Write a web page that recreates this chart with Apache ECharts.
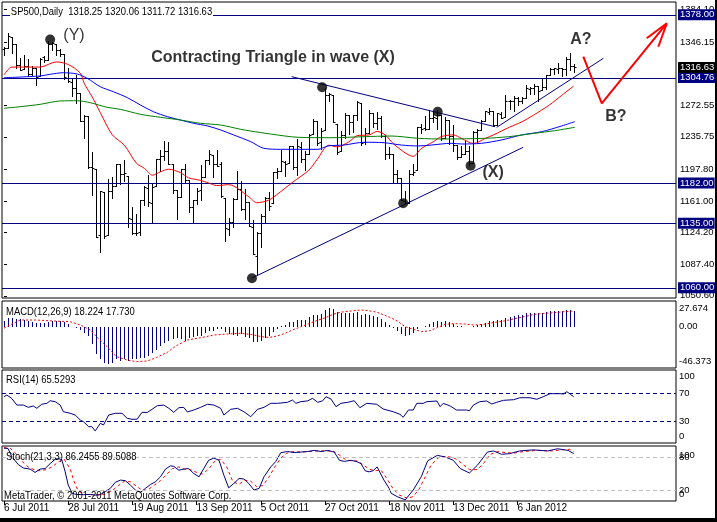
<!DOCTYPE html>
<html><head><meta charset="utf-8">
<script src="https://cdn.jsdelivr.net/npm/echarts@6/dist/echarts.min.js"></script>
<style>html,body{margin:0;padding:0;background:#fff}#c{width:717px;height:522px}</style>
</head><body><div id="c"></div>
<script>
// ---------- DATA ----------
const monthDays = [
  ['Jul', 2011, [6,7,8,11,12,13,14,15,18,19,20,21,22,25,26,27,28,29]],
  ['Aug', 2011, [1,2,3,4,5,8,9,10,11,12,15,16,17,18,19,22,23,24,25,26,29,30,31]],
  ['Sep', 2011, [1,2,6,7,8,9,12,13,14,15,16,19,20,21,22,23,26,27,28,29,30]],
  ['Oct', 2011, [3,4,5,6,7,10,11,12,13,14,17,18,19,20,21,24,25,26,27,28,31]],
  ['Nov', 2011, [1,2,3,4,7,8,9,10,11,14,15,16,17,18,21,22,23,25,28,29,30]],
  ['Dec', 2011, [1,2,5,6,7,8,9,12,13,14,15,16,19,20,21,22,23,27,28,29,30]],
  ['Jan', 2012, [3,4,5,6,9,10,11,12,13,17,18,19,20,23,24,25,26,27]]
];
const dates = [];
monthDays.forEach(m => m[2].forEach(d => dates.push(d + ' ' + m[0] + ' ' + m[1])));
const dateTickIdx = [0,16,32,48,64,80,96,112,128];
const SLOTS = 168;

const opens = [1337.6,1339.6,1352.4,1343.3,1319.6,1314.5,1317.7,1308.9,1315.9,1307.1,1328.7,1325.7,1343.8,1344.3,1337.4,1331.9,1304.8,1300.1,
 1292.6,1286.6,1254.3,1260.2,1200.3,1198.5,1121.3,1171.8,1121.3,1172.9,1178.9,1204.2,1193.0,1189.6,1140.5,1123.6,1124.4,1162.2,1176.7,1158.9,1177.9,1209.8,1213.0,
 1219.1,1203.9,1174.0,1165.9,1198.0,1185.4,1153.5,1162.6,1173.3,1189.4,1209.2,1215.0,1204.5,1203.6,1164.6,1128.8,1136.9,1163.3,1175.4,1151.7,1159.9,
 1131.2,1097.4,1124.0,1144.1,1165.0,1158.2,1194.6,1196.2,1207.0,1205.7,1224.5,1200.8,1223.5,1209.9,1215.4,1238.7,1254.2,1229.2,1244.0,1284.4,1285.0,
 1251.0,1219.6,1238.3,1260.8,1253.2,1261.1,1275.2,1229.6,1240.1,1263.9,1251.7,1257.8,1236.6,1216.2,1215.6,1193.0,1187.5,1161.4,1158.7,1192.6,1196.7,
 1246.9,1246.0,1244.3,1257.2,1258.1,1260.9,1234.5,1255.1,1236.8,1225.7,1212.1,1216.1,1219.7,1205.7,1241.3,1243.7,1254.0,1265.0,1265.4,1249.8,1262.8,
 1258.9,1277.0,1277.3,1280.9,1277.8,1280.8,1292.0,1292.5,1294.8,1290.2,1293.7,1308.1,1314.5,1315.3,1316.0,1314.4,1326.3,1318.25];
const highs = [1340.9,1356.5,1352.4,1343.3,1327.2,1331.5,1326.9,1317.7,1315.9,1328.1,1330.4,1347.0,1346.1,1344.3,1338.5,1331.9,1316.3,1304.2,
 1307.4,1286.6,1261.2,1260.2,1218.1,1198.5,1172.9,1171.8,1186.3,1189.0,1204.5,1204.2,1208.5,1189.6,1154.5,1145.5,1162.4,1178.6,1190.7,1181.2,1210.3,1220.1,1230.7,
 1229.3,1203.9,1174.0,1198.6,1204.4,1185.4,1162.5,1176.4,1202.4,1209.1,1220.1,1215.0,1220.4,1206.3,1164.6,1141.7,1164.2,1195.9,1184.7,1175.1,1159.9,
 1139.0,1125.1,1146.1,1165.6,1171.4,1194.9,1199.2,1220.3,1207.5,1224.6,1224.5,1233.1,1229.6,1219.4,1239.0,1256.5,1254.2,1246.3,1292.7,1287.1,1285.0,
 1251.0,1242.5,1263.2,1260.8,1261.7,1277.6,1275.2,1246.2,1267.0,1263.9,1264.3,1259.6,1237.7,1223.5,1215.6,1196.8,1187.5,1172.7,1197.4,1203.7,1247.1,
 1251.1,1260.1,1266.7,1266.0,1267.1,1260.9,1258.3,1255.1,1249.9,1225.7,1225.6,1231.0,1224.6,1242.8,1245.1,1255.2,1265.4,1269.4,1265.9,1263.5,1264.1,
 1284.6,1278.7,1283.1,1281.8,1282.0,1296.5,1293.8,1296.8,1294.8,1303.0,1308.1,1315.5,1315.4,1322.3,1316.0,1328.3,1333.5,1320.06];
const lows = [1330.9,1339.6,1333.7,1316.4,1313.3,1314.5,1306.5,1307.4,1295.9,1307.1,1323.0,1325.7,1336.9,1331.1,1329.6,1303.5,1299.2,1282.9,
 1274.7,1254.0,1234.6,1199.5,1168.1,1119.3,1101.5,1118.0,1121.3,1164.2,1178.9,1180.5,1184.4,1131.0,1122.1,1121.1,1121.1,1156.3,1155.1,1135.9,1177.9,1195.8,1209.3,
 1203.9,1170.6,1140.1,1165.9,1183.3,1148.4,1136.1,1157.4,1162.7,1189.4,1204.5,1188.4,1201.3,1166.2,1114.2,1121.4,1131.1,1163.3,1150.4,1139.9,1131.3,
 1098.9,1074.8,1107.1,1135.0,1150.3,1158.2,1187.3,1196.2,1190.6,1205.7,1198.6,1191.5,1206.3,1197.3,1215.4,1238.7,1226.8,1221.1,1244.0,1277.0,1253.2,
 1215.4,1219.6,1234.8,1238.9,1240.8,1255.0,1226.6,1227.7,1240.1,1246.7,1244.3,1235.7,1209.4,1211.4,1183.2,1181.7,1161.8,1158.7,1158.7,1191.8,1196.7,
 1239.7,1243.4,1244.3,1253.0,1244.8,1231.5,1234.5,1227.3,1219.4,1209.5,1212.1,1215.2,1202.4,1205.7,1229.5,1243.7,1254.0,1262.3,1248.6,1249.8,1257.5,
 1258.9,1268.1,1265.3,1273.3,1274.6,1280.8,1285.4,1285.8,1277.6,1290.2,1291.0,1308.1,1309.2,1309.9,1306.1,1307.7,1313.6,1311.72];
const closes = [1339.2,1353.2,1343.8,1319.5,1313.6,1317.7,1308.9,1316.1,1305.4,1326.7,1325.8,1343.8,1345.0,1337.4,1331.9,1304.9,1300.7,1292.3,
 1286.9,1254.1,1260.3,1200.1,1199.4,1119.5,1172.5,1120.8,1172.6,1178.8,1204.5,1192.8,1193.9,1140.7,1123.5,1123.8,1162.4,1177.6,1159.3,1176.8,1210.1,1212.9,1218.9,
 1204.4,1173.9,1165.2,1198.6,1185.9,1154.2,1162.3,1172.9,1188.7,1209.1,1216.0,1204.1,1202.1,1166.8,1129.6,1136.4,1163.0,1175.4,1151.1,1160.4,1131.4,
 1099.2,1124.0,1144.0,1165.0,1155.5,1194.9,1195.5,1207.3,1203.7,1224.6,1200.9,1225.4,1209.9,1215.4,1238.3,1254.2,1229.1,1242.0,1284.6,1285.1,1253.3,
 1218.3,1237.9,1261.2,1253.2,1261.1,1275.9,1229.1,1239.7,1263.9,1251.8,1257.8,1236.9,1216.1,1215.7,1193.0,1188.0,1161.8,1158.7,1192.6,1195.2,1247.0,
 1244.6,1244.3,1257.1,1258.5,1261.0,1234.4,1255.2,1236.5,1225.7,1211.8,1215.8,1219.7,1205.4,1241.3,1243.7,1254.0,1265.3,1265.4,1249.6,1263.0,1257.6,
 1277.1,1277.3,1281.1,1277.8,1280.7,1292.1,1292.5,1295.5,1289.1,1293.7,1308.0,1314.5,1315.4,1316.0,1314.7,1326.1,1318.4,1316.63];

const redMA = [[0,1308],[2,1317],[9,1317],[13,1323],[16,1320],[19,1310],[20,1298],[22,1282],[24,1264],[27,1238],[30,1226],[33,1205],[35,1199],[37,1191],[39,1195],[41,1198],[44,1194],[46,1188],[49,1185],[51,1182],[53,1179],[56,1180],[61,1166],[63,1159],[66,1162],[69,1172],[72,1183],[76,1197],[78,1209],[81,1226],[83,1224],[86,1230],[88,1237],[91,1238],[93,1242],[95,1238],[97,1228],[100,1217],[102,1213],[104,1222],[107,1230],[109,1236],[112,1238],[114,1234],[117,1228],[120,1234],[122,1238],[126,1247],[129,1253],[132,1261],[136,1273],[139,1284],[142,1295]];
const blueMA = [[0,1304.6],[9,1306.6],[11.5,1308.6],[14.75,1310.4],[18.25,1308.9],[20.75,1303.9],[24,1294.1],[27.25,1288.3],[30.75,1281.4],[34,1272.8],[37.25,1265],[40.75,1259.2],[44,1255.3],[47.25,1251.5],[50.75,1248.4],[54,1243.7],[57.25,1237.9],[61.5,1230.1],[64.75,1222.4],[69,1221.2],[78.25,1221.2],[80.75,1225.1],[84.75,1226.2],[89.75,1229.4],[94.75,1228.9],[99,1226.2],[103.25,1225.1],[106.5,1226.2],[111.5,1228.2],[114,1227.4],[119,1228.2],[124,1232.1],[129,1237.9],[134,1241.7],[139,1248.4],[142.25,1253.4]];
const greenMA = [[0,1269],[4,1270.8],[9,1273.6],[14,1277.5],[18.25,1277.8],[21.5,1275.5],[25.75,1270.1],[29,1267.8],[34,1262],[39,1258.5],[44,1255.3],[49,1251.5],[54,1249.5],[59,1244.5],[61.5,1242.5],[66.5,1239],[73.25,1235.2],[81.5,1234.7],[89.75,1235.9],[96.5,1236.7],[103.25,1234],[109.75,1233.2],[119.75,1234],[125.75,1235.9],[132.25,1239.9],[137.25,1242.9],[142.25,1246.8]];

const levelLines = [1378.00, 1304.76, 1182.00, 1135.00, 1060.00];
const lastPrice = 1316.63;
const priceTicks = [1384.10, 1346.15, 1272.55, 1235.75, 1197.80, 1161.00, 1124.20, 1087.40, 1050.60];

const waveCircles = [[11.5,1349],[61.8,1071],[79.3,1293.5],[99.5,1158.5],[108.1,1265],[116.3,1202]];
const upperTriLine = [[71.7,1305.8],[122.4,1247.5]];
const lowerTriLine = [[61.7,1071],[129.4,1223.5]];
const risingLine = [[122.8,1246.8],[149.4,1327.2]];
const redPath = [[144.4,1329.1],[149,1274.8],[165.2,1368]];
const redBarb1 = [[160.2,1350.5],[165.2,1368]];
const redBarb2 = [[163.1,1340.7],[165.2,1368]];
const annotations = [
  {name:'(Y)', value:[17.45,1353.8], w:'normal'},
  {name:'Contracting Triangle in wave (X)', value:[67.05,1328.1], w:'bold'},
  {name:'A?', value:[143.8,1348.5], w:'bold'},
  {name:'B?', value:[152.5,1259.5], w:'bold'},
  {name:'(X)', value:[121.9,1194.2], w:'bold'}
];

const macdHist = [6.3,10,10,9.3,8.6,7.9,6.8,5.6,4.1,4.8,4.8,5.9,6.8,6.8,6.8,5.9,3,0.3,-1.8,-4.1,-6.8,-10.5,-19.9,-31,-36.6,-41,-42.4,-41,-36.6,-38.4,
 -36.6,-38.4,-36.6,-36.6,-34.8,-34.8,-33,-29.3,-26.5,-22,-18,-16.1,-14.3,-12.4,-14.3,-16.1,-12.4,-11.6,-10.5,-10.5,-6.8,-4.8,-4.8,-2.3,-3,-5.6,-8.6,-9.3,-10.5,-8.6,
 -11,-13,-17,-17.5,-15.5,-12.5,-10.5,-6,-2.5,0.5,2.5,5.5,5.5,7.5,7.5,8,10.5,13.5,13.5,14.5,19,21.5,20.5,16.5,15,15.5,15.5,15.5,16.5,
 13.5,14.5,13.5,12.5,11,9,5,1.5,-1.5,-5,-8.5,-10,-9,-7,-3,-0.8,0.5,3,5,6.5,5.5,6.5,5.5,3.5,1.2,0.4,0.3,-0.5,0.6,1.8,3.2,4.8,6,6.2,7.2,7.6,
 9.8,11,12.4,13,13.6,15,15.5,16,15.6,15.6,16.6,17.5,18,18.2,17.8,18.5,18.5,18.224];
const macdSignal = [[0,-1.5],[2,3],[4,7.6],[8,7.6],[12,6.6],[16.5,5.7],[19,2],[21.5,-3.6],[23,-11.1],[25.7,-22.4],[28,-33.6],[30.7,-37.4],[33,-39.3],[35.7,-38.5],[38,-34.7],[40.7,-28.7],[43,-21.2],[45.7,-14.9],[49,-12.3],[52.3,-9.3],[55.7,-8.1],[59,-7.3],[62,-9],[64,-11],[66,-12],[68,-10.5],[70,-7.5],[72,-3.5],[74,0],[76,3.5],[78,7],[80,10],[82,14],[84,16.5],[86,17.5],[88,18.5],[89,18.9],[90.7,18.2],[93,16.3],[94.7,13.3],[96.3,10.3],[98,6.5],[100,0.1],[101.8,-2.5],[104,-5.5],[106,-4.7],[108,-1],[110,2.8],[112,3.5],[114.7,3.2],[117,2],[119.7,2.8],[122,4.7],[124.7,6.5],[127,8.8],[129.7,11.4],[132.2,14],[134.7,15.1],[137.2,15.9],[139.7,17],[142,17.73]];

const rsi = [[0,65.6],[0.7,68],[1.9,63.2],[3.2,53.4],[4.8,53.4],[6.1,50],[7.3,52],[8.2,48.6],[9.4,54.5],[10.7,55.9],[11.5,59.7],[12.75,58.3],[14,53.4],[14.8,43.6],[16.5,41.3],[17.75,38.8],[19,31.5],[19.8,29],[21.1,21.7],[21.9,21.7],[22.75,15.4],[24,26.6],[24.8,24.2],[26.1,38.8],[27.75,41.3],[29.4,41.3],[30.7,34],[31.9,32.5],[33.2,32.7],[34.4,42.7],[35.7,42.5],[36.9,47.1],[38.2,52.4],[39.8,53.4],[41.1,48.6],[42.3,42.7],[43.6,49.5],[44.8,50],[45.7,43.2],[47.3,46.1],[49,50],[50.7,54.5],[52.3,53.4],[54,48.6],[54.8,38.8],[56.5,47.1],[58.2,48.6],[59.8,43.6],[61.5,36.3],[63.2,47.1],[64.8,50],[66.5,55.9],[68.2,55.9],[70.7,57.4],[71.9,60.8],[72.75,55.9],[74,58.3],[75.7,59.5],[76.9,63.2],[78.2,57.4],[79.4,59.5],[80.25,65.6],[81.5,62.2],[82.75,51],[84,55.9],[85.7,57.4],[87.3,59.7],[88.7,49.5],[90.4,55.9],[92.9,54.5],[94.5,47.6],[97,43.6],[98.7,39.8],[99.5,35.4],[100.8,46.1],[102,46.1],[102.9,55.9],[104.5,55.9],[105.4,58.3],[107.9,59.3],[108.7,51],[109.5,55.9],[111.2,52],[112.8,46.1],[115.3,46.1],[116,45],[117,53.4],[118.6,58.3],[120.3,59.3],[121.6,54.9],[122.8,57.4],[124.5,60.3],[127,61.2],[128.6,64.1],[131.1,64.1],[132.8,61.8],[134.4,65.6],[136.1,70],[138.6,70],[139.4,69.5],[140.3,72.9],[141.1,69.5],[142,65.53]];

const stochMain = [[0,96],[1,95.5],[2,80],[3.6,66],[4.8,60],[6.5,58],[7.75,52],[9,58],[10.25,59],[11.5,68],[12.75,76],[13.6,77],[14.4,75],[15.25,53],[16,29],[17,14],[18,12],[19.8,11.5],[21.5,12],[22.75,10.7],[24,11.5],[25.25,17],[26.5,23],[27.75,34],[29,38],[30.25,37],[31.5,29],[32.75,20],[34,15.6],[35.25,23],[36.5,30],[37.75,35],[39,44],[40.25,58],[41.5,64],[42.3,63],[43.6,56],[44.8,58],[46,59],[47.3,50],[48.6,44],[49.8,59],[51,74],[52.3,78],[53.6,74],[54.8,47],[56,24],[57.3,32],[58.6,41],[59.8,40],[61,32],[62.3,20],[63.6,23],[64.8,44],[66.5,62],[67.75,72],[69,88],[70.7,90],[72.3,88],[74,89],[75.7,90],[77.3,92],[79,90],[80.7,92],[82.3,89],[83.6,74],[84.8,72],[86.5,74],[87.75,72],[89,68],[90,55],[91,53],[92,55],[93,62],[94.7,38],[96,23],[96.5,14],[98,8],[100,2],[102,20],[104,44],[105.6,73],[108,83],[110,80],[112,74],[113.7,59],[116,51],[118,65],[120.5,89],[122,91],[124,85],[126,86],[128.5,91],[132,93],[135.5,91],[138,95],[140.6,92],[142,86.25]];
const stochSignal = [[0,97],[1.5,96],[3,86],[4.5,72],[6,62],[7.5,57],[9,55],[10.5,57],[12,62],[13.5,71],[15,76],[16.5,58],[17.5,35],[18.5,18],[20,12],[22,11.5],[24,11],[25.5,13],[27,19],[28.5,28],[30,36],[31.5,35],[33,27],[34.5,19],[36,21],[37.5,29],[39,37],[40.5,48],[42,59],[43.5,62],[45,58],[46.5,57],[48,52],[49.5,49],[51,58],[52.5,72],[54,76],[55.5,62],[57,36],[58.5,30],[60,38],[61.5,36],[63,26],[64.5,28],[66,43],[67.5,62],[69,78],[70.5,87],[72,90],[74,89],[76,90],[78,91],[80,91],[82,91],[83.5,84],[85,76],[86.5,73],[88,73],[89.5,66],[91,58],[92.5,55],[94,56],[95.5,40],[97,22],[98.5,11],[100.5,5],[102,8],[103.5,22],[105,44],[106.5,66],[108.5,80],[110.5,81],[112.5,77],[114,69],[116,57],[118,57],[119.5,68],[121,84],[123,90],[125,88],[127,87],[129.5,90],[133,92],[136.5,91],[139,93],[141,94],[142,89.51]];

const macdLabelPos = [20.8, 0, -39.3], macdLabelText = ['27.674','0.00','-46.373'];
const rsiLabelPos = [94.9, 70, 30, 7], rsiLabelText = ['100','70','30','0'];
const stochLabelPos = [80, 20], stochLabelText = ['80','20'];
const stochLabelPos2 = [83.6, 12.7], stochLabelText2 = ['100','0'];

// ---------- CHART ----------
const FONT = "'Liberation Sans',Arial,sans-serif";
const AXFS = 10;     // date labels
const RFS = 9.5;     // right-hand scale labels
const NAVY = '#000080';
const CLEAR = 'rgba(0,0,0,0)';
const nearest = (pos, txt) => v => { let k = 0, b = 1e9; pos.forEach((p, j) => { const d = Math.abs(p - v); if (d < b) { b = d; k = j; } }); return txt[k]; };

const grids = [
  {left:2, width:674, top:2, height:296},
  {left:2, width:674, top:301, height:67},
  {left:2, width:674, top:370, height:73},
  {left:2, width:674, top:446, height:55}
].map(g => Object.assign(g, {show:true, borderColor:'#000', borderWidth:1, backgroundColor:'#fff', containLabel:false, outerBoundsMode:'none'}));

const xAxes = [0,1,2,3].map(g => ({
  type:'value', gridIndex:g, min:-0.5, max:SLOTS - 0.5,
  axisLine:{show:false}, splitLine:{show:false},
  axisTick: g === 3 ? {show:true, customValues:dateTickIdx, length:4, lineStyle:{color:'#000'}} : {show:false},
  axisLabel: g === 3 ? {show:true, customValues:dateTickIdx, formatter:v => dates[Math.round(v)], align:'left', margin:2, color:'#000', fontFamily:FONT, fontSize:AXFS, hideOverlap:false} : {show:false}
}));

const subY = (g, min, max, pos, txt) => ({
  type:'value', gridIndex:g, position:'right', min, max,
  axisLine:{show:false}, splitLine:{show:false}, axisTick:{show:false},
  axisLabel:{customValues:pos, formatter:nearest(pos, txt), margin:3, color:'#000', fontFamily:FONT, fontSize:RFS, hideOverlap:false}
});
const yAxes = [
  {type:'value', gridIndex:0, position:'right', min:1048.0, max:1392.8,
   axisLine:{show:false}, splitLine:{show:false},
   axisTick:{show:true, customValues:priceTicks, length:3, lineStyle:{color:'#000'}},
   axisLabel:{customValues:priceTicks, formatter:v => v.toFixed(2), margin:4, color:'#000', fontFamily:FONT, fontSize:RFS, hideOverlap:false}},
  subY(1, -46.4, 29, macdLabelPos, macdLabelText),
  subY(2, -2.2, 104.7, rsiLabelPos, rsiLabelText),
  subY(3, 0, 100, stochLabelPos, stochLabelText),
  subY(3, 0, 100, stochLabelPos2, stochLabelText2)
];

const ohlcData = dates.map((d, i) => [i, opens[i], highs[i], lows[i], closes[i]]);
const crisp = v => Math.round(v) + 0.5;

const lineS = (name, data, color, extra) => Object.assign({
  type:'line', name, data, xAxisIndex:0, yAxisIndex:0, showSymbol:false, symbol:'none',
  lineStyle:{color, width:1}, silent:true, z:3
}, extra || {});

const series = [
  {type:'custom', name:'SP500', xAxisIndex:0, yAxisIndex:0, data:ohlcData, encode:{x:0, y:[1,2,3,4]}, z:2,
   renderItem:(params, api) => {
     const i = api.value(0);
     const ph = api.coord([i, api.value(2)]), pl = api.coord([i, api.value(3)]);
     const po = api.coord([i, api.value(1)]), pc = api.coord([i, api.value(4)]);
     const x = crisp(ph[0]);
     const st = {stroke:'#000', lineWidth:1};
     return {type:'group', children:[
       {type:'line', shape:{x1:x, y1:Math.round(ph[1]), x2:x, y2:Math.round(pl[1]) + 1}, style:st},
       {type:'line', shape:{x1:x - 2, y1:crisp(po[1]), x2:x, y2:crisp(po[1])}, style:st},
       {type:'line', shape:{x1:x, y1:crisp(pc[1]), x2:x + 2, y2:crisp(pc[1])}, style:st}
     ]};
   }},
  // horizontal level lines, crisp
  {type:'custom', name:'levels', xAxisIndex:0, yAxisIndex:0, data:levelLines.map(v => [0, v]), encode:{x:0, y:1}, z:2,
   renderItem:(params, api) => {
     const p = api.coord([0, api.value(1)]);
     const cs = params.coordSys;
     const y = crisp(p[1]);
     return {type:'line', shape:{x1:cs.x, y1:y, x2:cs.x + cs.width, y2:y}, style:{stroke:NAVY, lineWidth:1}};
   }},
  lineS('MA red', redMA, '#ff0000', {smooth:0.3, markLine:{
     silent:true, symbol:['none','none'], animation:false,
     lineStyle:{color:CLEAR, width:1},
     label:{show:true, position:'end', distance:2, color:'#fff', backgroundColor:NAVY, padding:[1,1,0,2],
            fontFamily:FONT, fontSize:RFS, formatter:p => p.value.toFixed(2)},
     data: levelLines.map(v => ({yAxis:v})).concat([{yAxis:lastPrice, label:{backgroundColor:'#000'}}])
  }}),
  lineS('MA blue', blueMA, '#0000ff', {smooth:0.3}),
  lineS('MA green', greenMA, '#008000', {smooth:0.3}),
  lineS('upper', upperTriLine, NAVY),
  lineS('lower', lowerTriLine, NAVY),
  lineS('rising', risingLine, NAVY),
  lineS('arrow', redPath, '#ff0000', {lineStyle:{color:'#ff0000', width:2}, z:5}),
  lineS('barb1', redBarb1, '#ff0000', {lineStyle:{color:'#ff0000', width:2}, z:5}),
  lineS('barb2', redBarb2, '#ff0000', {lineStyle:{color:'#ff0000', width:2}, z:5}),
  {type:'scatter', name:'waves', xAxisIndex:0, yAxisIndex:0, data:waveCircles, symbolSize:10, itemStyle:{color:'#000'}, silent:true, z:6},
  {type:'scatter', name:'notes', xAxisIndex:0, yAxisIndex:0, symbolSize:1, itemStyle:{color:CLEAR}, silent:true, z:7,
   data: annotations.map(a => ({name:a.name, value:a.value, label:{fontWeight:a.w}})),
   label:{show:true, position:'inside', formatter:'{b}', color:'#000', fontFamily:FONT, fontSize:16}},
  // MACD
  {type:'custom', name:'MACD', xAxisIndex:1, yAxisIndex:1, data:macdHist.map((v, i) => [i, v]), encode:{x:0, y:1},
   renderItem:(params, api) => {
     const i = api.value(0);
     const p0 = api.coord([i, 0]), p1 = api.coord([i, api.value(1)]);
     const x = crisp(p0[0]);
     return {type:'line', shape:{x1:x, y1:Math.round(p0[1]), x2:x, y2:Math.round(p1[1])}, style:{stroke:NAVY, lineWidth:1}};
   }},
  {type:'line', name:'Signal', xAxisIndex:1, yAxisIndex:1, data:macdSignal, showSymbol:false, symbol:'none', silent:true,
   lineStyle:{color:'#ff0000', width:1, type:[2,2]}, z:4},
  // RSI
  {type:'line', name:'RSI', xAxisIndex:2, yAxisIndex:2, data:rsi, showSymbol:false, symbol:'none', silent:true,
   lineStyle:{color:NAVY, width:1},
   markLine:{silent:true, symbol:['none','none'], label:{show:false}, lineStyle:{color:NAVY, width:1, type:[4,3]},
             data:[{yAxis:70},{yAxis:30}]}},
  // Stoch
  {type:'line', name:'Stoch', xAxisIndex:3, yAxisIndex:3, data:stochMain, showSymbol:false, symbol:'none', silent:true,
   lineStyle:{color:NAVY, width:1}, z:4,
   markLine:{silent:true, symbol:['none','none'], label:{show:false}, lineStyle:{color:'#c0c0c0', width:1, type:[4,3]},
             data:[{yAxis:80},{yAxis:20}]}},
  {type:'line', name:'StochSignal', xAxisIndex:3, yAxisIndex:3, data:stochSignal, showSymbol:false, symbol:'none', silent:true,
   lineStyle:{color:'#ff0000', width:1, type:[3,3]}, z:3}
];

const txt = (x, y, text, bg) => ({type:'text', x, y, scaleX:0.86, z:100, silent:true,
  style:{text, font:'11px ' + FONT, fill:'#000', verticalAlign:'middle', textVerticalAlign:'middle', backgroundColor:bg || null, padding:bg ? [0,1] : 0}});

const chart = echarts.init(document.getElementById('c'), null, {renderer:'canvas'});
chart.setOption({
  animation:false,
  backgroundColor:'#fff',
  grid:grids, xAxis:xAxes, yAxis:yAxes, series,
  graphic:[
    txt(10, 11.5, 'SP500,Daily  1318.25 1320.06 1311.72 1316.63', '#fff'),
    txt(6, 311.5, 'MACD(12,26,9) 18.224 17.730'),
    txt(6, 380, 'RSI(14) 65.5293'),
    txt(6, 456.5, 'Stoch(21,3,3) 86.2455 89.5088'),
    txt(4, 496, 'MetaTrader, \u00a9 2001-2011 MetaQuotes Software Corp.'),
    {type:'rect', z:100, silent:true, shape:{x:715, y:0, width:2, height:522}, style:{fill:'#000'}},
    {type:'rect', z:100, silent:true, shape:{x:0, y:518, width:717, height:4}, style:{fill:'#000'}}
  ]
});
</script></body></html>
